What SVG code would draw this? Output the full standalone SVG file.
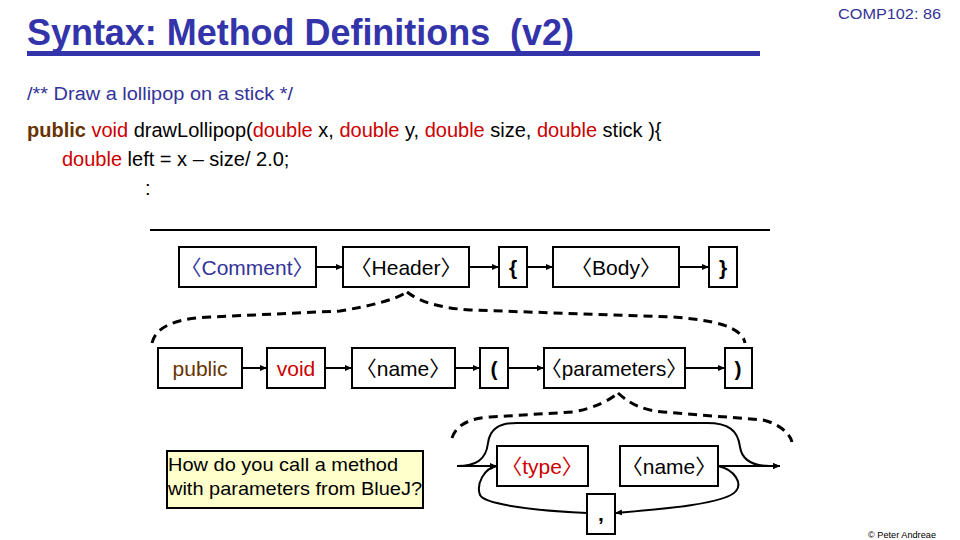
<svg xmlns="http://www.w3.org/2000/svg" width="960" height="540" viewBox="0 0 960 540">
<style>
text{font-family:"Liberation Sans","Noto Sans CJK SC","DejaVu Sans",Arial,sans-serif}
.box{fill:#fff;stroke:#000;stroke-width:2}
.bt{font-size:21px;text-anchor:middle;fill:#000}
.conn{fill:none;stroke:#000;stroke-width:2}
.dash{fill:none;stroke:#000;stroke-width:3;stroke-dasharray:9 6}
.kw{fill:#cc0000}
.pub{fill:#663300}
.code{font-size:20px;fill:#000}
</style>
<defs>
<marker id="ah" markerUnits="userSpaceOnUse" markerWidth="8" markerHeight="8" refX="7" refY="4" orient="auto">
<path d="M0,1 L7,4 L0,7 Z" fill="#000"/>
</marker>
</defs>
<rect width="960" height="540" fill="#fff"/>
<g id="title">
<text x="27" y="45" font-size="36" font-weight="bold" fill="#3333aa" xml:space="preserve" textLength="547" lengthAdjust="spacingAndGlyphs">Syntax: Method Definitions  (v2)</text>
<rect x="27" y="51" width="733" height="5" fill="#3333aa"/>
<text x="838" y="19" font-size="14" fill="#333399" textLength="103" lengthAdjust="spacingAndGlyphs">COMP102: 86</text>
</g>
<g id="code">
<text x="27" y="100" font-size="18" fill="#333399" textLength="266" lengthAdjust="spacingAndGlyphs">/** Draw a lollipop on a stick */</text>
<text x="27" y="137" class="code"><tspan class="pub" font-weight="bold">public</tspan> <tspan class="kw">void</tspan> drawLollipop(<tspan class="kw">double</tspan> x, <tspan class="kw">double</tspan> y, <tspan class="kw">double</tspan> size, <tspan class="kw">double</tspan> stick ){</text>
<text x="62" y="166" class="code"><tspan class="kw">double</tspan> left = x – size/ 2.0;</text>
<text x="145" y="195" class="code">:</text>
<line x1="150" y1="230" x2="770" y2="230" stroke="#000" stroke-width="2"/>
</g>
<g id="n-comment"><rect class="box" x="179" y="247" width="137" height="40"/><text class="bt" x="247" y="275" style="fill:#333399">〈Comment〉</text></g>
<g id="n-header"><rect class="box" x="343" y="247" width="126" height="40"/><text class="bt" x="406" y="275">〈Header〉</text></g>
<g id="n-lbrace"><rect class="box" x="499" y="247" width="28" height="40"/><text class="bt" x="513" y="275" font-weight="bold">{</text></g>
<g id="n-body"><rect class="box" x="553" y="247" width="126" height="40"/><text class="bt" x="616" y="275">〈Body〉</text></g>
<g id="n-rbrace"><rect class="box" x="709" y="247" width="28" height="40"/><text class="bt" x="723" y="275" font-weight="bold">}</text></g>
<g id="n-public"><rect class="box" x="158" y="348" width="84" height="40"/><text class="bt" x="200" y="376" style="fill:#663300">public</text></g>
<g id="n-void"><rect class="box" x="267" y="348" width="58" height="40"/><text class="bt" x="296" y="376" style="fill:#cc0000">void</text></g>
<g id="n-name"><rect class="box" x="352" y="348" width="103" height="40"/><text class="bt" x="403" y="376">〈name〉</text></g>
<g id="n-lparen"><rect class="box" x="480" y="348" width="28" height="40"/><text class="bt" x="494" y="376" font-weight="bold">(</text></g>
<g id="n-params"><rect class="box" x="544" y="348" width="141" height="40"/><text class="bt" x="614" y="376" textLength="146" lengthAdjust="spacingAndGlyphs">〈parameters〉</text></g>
<g id="n-rparen"><rect class="box" x="725" y="348" width="27" height="40"/><text class="bt" x="738" y="376" font-weight="bold">)</text></g>
<g id="n-type"><rect class="box" x="497" y="446" width="91" height="40"/><text class="bt" x="542" y="474" style="fill:#cc0000">〈type〉</text></g>
<g id="n-pname"><rect class="box" x="620" y="446" width="98" height="40"/><text class="bt" x="669" y="474">〈name〉</text></g>
<g id="n-comma"><rect class="box" x="587" y="494" width="28" height="40"/><text class="bt" x="601" y="521" font-weight="bold">,</text></g>
<g id="n-note"><rect x="167" y="451" width="256" height="57" fill="#ffffcc" stroke="#000" stroke-width="2"/>
<text x="168" y="471" font-size="19" fill="#000" textLength="230" lengthAdjust="spacingAndGlyphs">How do you call a method</text>
<text x="168" y="495" font-size="19" fill="#000" textLength="254" lengthAdjust="spacingAndGlyphs">with parameters from BlueJ?</text></g>
<g id="connectors">
<line class="conn" x1="316" y1="267" x2="343" y2="267" marker-end="url(#ah)"/>
<line class="conn" x1="469" y1="267" x2="499" y2="267" marker-end="url(#ah)"/>
<line class="conn" x1="527" y1="267" x2="553" y2="267" marker-end="url(#ah)"/>
<line class="conn" x1="679" y1="267" x2="709" y2="267" marker-end="url(#ah)"/>
<line class="conn" x1="242" y1="368" x2="267" y2="368" marker-end="url(#ah)"/>
<line class="conn" x1="325" y1="368" x2="352" y2="368" marker-end="url(#ah)"/>
<line class="conn" x1="455" y1="368" x2="480" y2="368" marker-end="url(#ah)"/>
<line class="conn" x1="508" y1="368" x2="544" y2="368" marker-end="url(#ah)"/>
<line class="conn" x1="685" y1="368" x2="725" y2="368" marker-end="url(#ah)"/>
<path class="dash" d="M152,343 C156,325 180,318 210,317 L340,311 C370,306 395,300 407,292"/>
<path class="dash" d="M407,292 C420,302 440,308 470,310 L673,317 C712,320 742,326 745,343"/>
<path class="dash" d="M452,438 C456,425 470,418 490,417 L573,412 C595,408 610,400 618,393"/>
<path class="dash" d="M618,393 C628,402 640,410 663,412 L763,420 C780,424 790,434 792,442"/>
<line class="conn" x1="457" y1="466" x2="497" y2="466" marker-end="url(#ah)"/>
<path class="conn" d="M457,466 C476,466 486,460 488,443 C490,428 500,423 517,423 L707,423 C728,423 738,430 740,447 C742,460 752,466 770,466 L780,466" marker-end="url(#ah)"/>
<line class="conn" x1="718" y1="466" x2="780" y2="466" marker-end="url(#ah)"/>
<path class="conn" d="M718,466 C736,470 742,484 736,491 C725,505 650,510 615,513" marker-end="url(#ah)"/>
<path class="conn" d="M587,513 C540,511 485,505 480,495 C476,484 484,468 497,466" marker-end="url(#ah)"/>
</g>
<text x="868" y="538" font-size="9" fill="#000" textLength="68" lengthAdjust="spacingAndGlyphs">© Peter Andreae</text>
</svg>
